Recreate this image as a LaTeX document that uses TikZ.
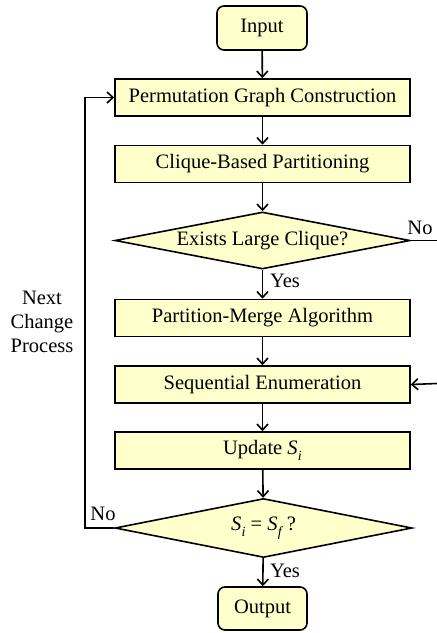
\documentclass[tikz,border=0pt]{standalone}
\usepackage{fontspec}
\setmainfont{Liberation Serif}
\usetikzlibrary{shapes.geometric,arrows.meta}
\definecolor{boxfill}{RGB}{255,255,204}
\newcommand\Sv[1]{\textit{S}\kern0.3pt\raisebox{-0.3em}{\fontsize{14}{14}\selectfont\textit{#1}}}
\begin{document}
\begin{tikzpicture}[x=1pt,y=-1pt,
  font=\fontsize{20.5}{24}\selectfont,
  box/.style={draw, line width=1.6pt, fill=boxfill, minimum width=295pt, minimum height=37pt, inner sep=0pt},
  term/.style={draw, line width=1.6pt, fill=boxfill, rounded corners=7pt, minimum width=90pt, minimum height=44pt, inner sep=0pt},
  dec/.style={diamond, draw, line width=1.6pt, fill=boxfill, aspect=5, inner sep=0pt},
  arr/.style={-{Straight Barb[length=6pt,width=11pt]}, line width=1.6pt},
  ln/.style={line width=1.6pt},
  lbl/.style={inner sep=0pt}]
\useasboundingbox (0,0) rectangle (437,633);
\node[term] (input) at (262,28) {Input};
\node[box] (pgc) at (262.5,97.5) {Permutation Graph Construction};
\node[box] (cbp) at (262.5,164) {Clique-Based Partitioning};
\node[dec, minimum width=295pt, minimum height=57pt] (d1) at (262.5,240.5) {Exists Large Clique?};
\node[box] (pma) at (262.5,318) {Partition-Merge Algorithm};
\node[box] (se) at (262.5,384.5) {Sequential Enumeration};
\node[box] (upd) at (262.5,450.5) {Update \Sv{i}};
\node[dec, minimum width=297pt, minimum height=59pt] (d2) at (263.5,528) {\Sv{i} = \Sv{f}\,?};
\node[term, minimum width=89pt, minimum height=43pt] (out) at (262.5,608.5) {Output};

\coordinate (e1) at (437,240.5);
\coordinate (e2) at (437,383.5);
\coordinate (lp) at (85,528);

\draw[arr] (input) -- (pgc);
\draw[arr] (pgc) -- (cbp);
\draw[arr] (cbp) -- (d1);
\draw[arr] (d1) -- (pma);
\draw[arr] (pma) -- (se);
\draw[arr] (se) -- (upd);
\draw[arr] (upd) -- (d2);
\draw[arr] (d2) -- (out);
\draw[ln] (d1.east) -- (e1);
\draw[arr] (e2) -- (se.east);
\draw[arr] (d2.west) -- (lp) |- (pgc.west);

\node[lbl] (no1) at (420,228) {No};
\node[lbl] (yes1) at (285,281) {Yes};
\node[lbl] (no2) at (103,514) {No};
\node[lbl] (yes2) at (285,571) {Yes};
\node[lbl, align=center] (ncp) at (42,322) {Next\\Change\\Process};
\end{tikzpicture}
\end{document}
